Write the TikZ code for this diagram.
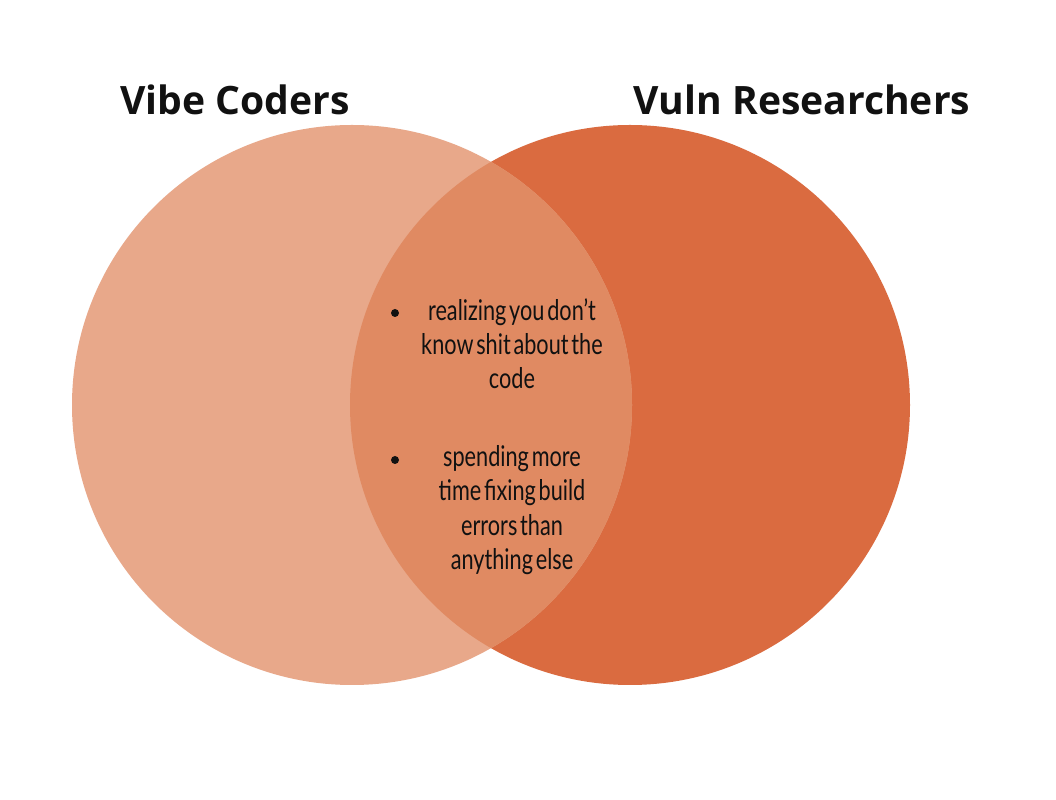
\documentclass[tikz,border=0pt]{standalone}
\usepackage{fontspec}
\setmainfont{Open Sans}
\newfontfamily\narrowfont[FakeStretch=0.76, WordSpace=0.5]{Lato}
\usepackage{tikz}
\usetikzlibrary{positioning}
\definecolor{vc-light}{HTML}{E8A88A}
\definecolor{vc-dark}{HTML}{DA6B40}
\definecolor{vc-mid}{HTML}{E08A62}
\definecolor{vc-text}{HTML}{111111}

\begin{document}
\begin{tikzpicture}[
    ring/.style={circle, minimum size=14cm, inner sep=0pt},
    title/.style={font=\fontsize{27.8}{34}\selectfont\bfseries, text=vc-text},
    item/.style={font=\narrowfont\fontsize{20.3}{24.5}\selectfont, text=vc-text, align=center, inner sep=0pt, anchor=north},
    dot/.style={circle, fill=vc-text, inner sep=0pt, minimum size=0.2cm}
]

% =========================================================================
% CANVAS
% =========================================================================
\useasboundingbox[fill=white] (0,0) rectangle (26.4,20);

% =========================================================================
% CIRCLES
% =========================================================================
\node[ring, fill=vc-dark] (res) at (15.75, 9.875) {};
\node[ring, fill=vc-light] (vibe) at (8.8, 9.875) {};

% overlap
\begin{scope}
    \clip (vibe.center) circle (7cm);
    \fill[vc-mid] (res.center) circle (7cm);
\end{scope}

% =========================================================================
% TITLES
% =========================================================================
\node[title] (vibeT) at (5.875, 17.5) {Vibe Coders};
\node[title] (resT) at (20.05, 17.5) {Vuln Researchers};

% =========================================================================
% SHARED ITEMS
% =========================================================================
\node[item] (itemA) at (12.8, 12.55) {realizing you don’t\\know shit about the\\code};
\node[item] (itemB) at (12.8, 8.875) {spending more\\time fixing build\\errors than\\anything else};

\node[dot] (dotA) at (9.875, 12.175) {};
\node[dot] (dotB) at (9.875, 8.5) {};

\end{tikzpicture}
\end{document}
